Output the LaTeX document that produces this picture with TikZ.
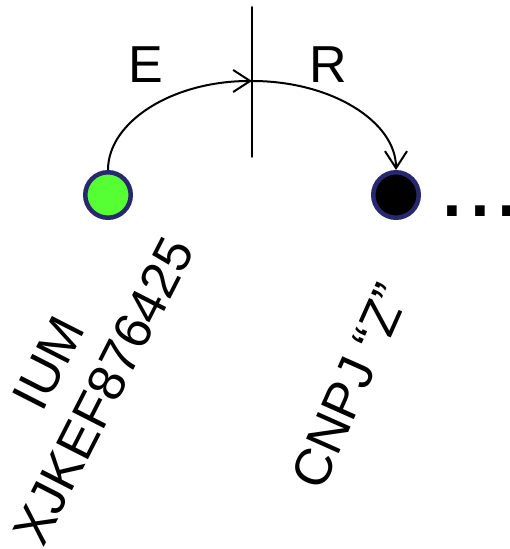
\documentclass[tikz,border=0pt]{standalone}
\usepackage{fontspec}
\setmainfont{Liberation Sans}
\usepackage{tikz}
\usepackage{tkz-euclide}
\usetikzlibrary{arrows.meta}
\definecolor{rimblue}{RGB}{40,40,110}
\definecolor{litgreen}{RGB}{85,255,51}

\begin{document}
\begin{tikzpicture}[x=1pt,y=1pt,
  station/.style={circle,draw=rimblue,line width=4.5pt,minimum size=45.5pt,inner sep=0pt},
  hop/.style={line width=2pt,-{Straight Barb[length=17pt,width=22pt,line width=2pt]}},
  letter/.style={font=\fontsize{52}{62}\selectfont,inner sep=0pt},
  rotlabel/.style={letter,rotate=63,align=center}]
  \useasboundingbox (0,0) rectangle (510,549);
  \tkzDefPoints{252/542/T,252/392/B,252/468/M}
  \tkzDrawSegment[line width=1.5pt,color=black](T,B)

  \node[station,fill=litgreen] (src) at (108,354) {};
  \node[station,fill=black] (dst) at (396,354) {};

  \draw[hop] (src.north) .. controls (108,427) and (172,468) .. (M);
  \draw[hop] (M) .. controls (332,468) and (396,427) .. (dst.north);

  \node[letter] (e) at (146,484) {E};
  \node[letter] (r) at (328,484) {R};
  \node[font=\fontsize{100}{100}\selectfont,anchor=base west,inner sep=0pt] (more) at (438,332) {...};

  \node[rotlabel] (id) at (76,172) {IUM\\XJKEF876425};
  \node[rotlabel,rotate=3] (firm) at (350,163) {CNPJ “Z”};
\end{tikzpicture}
\end{document}
